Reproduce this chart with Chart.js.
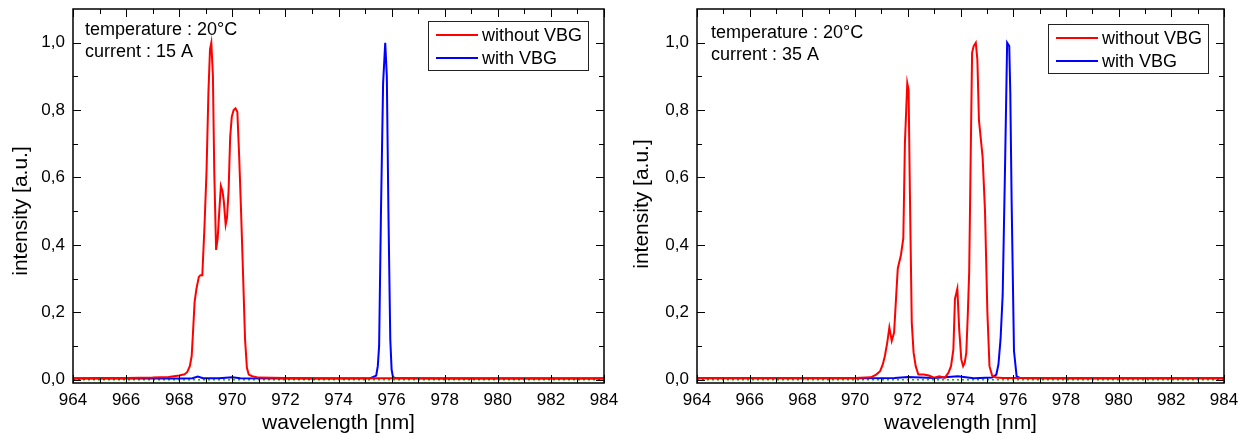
<!DOCTYPE html>
<html>
<head>
<meta charset="utf-8">
<script src="https://cdn.jsdelivr.net/npm/chart.js@4.4.1/dist/chart.umd.min.js"></script>
<style>
  html, body { margin: 0; padding: 0; background: #fff; }
  #wrap { position: relative; width: 1241px; height: 434px; }
  #left { position: absolute; left: 0; top: 0; }
  #right { position: absolute; left: 620px; top: 0; }
</style>
</head>
<body>
<div id="wrap">
  <canvas id="left" width="620" height="434"></canvas>
  <canvas id="right" width="621" height="434"></canvas>
</div>
<script>
// axes
const xTicks = [964, 966, 968, 970, 972, 974, 976, 978, 980, 982, 984];
const yTicks = [0.0, 0.2, 0.4, 0.6, 0.8, 1.0];

// 15 A - without VBG
const wl15Red = [964, 965, 966, 967, 967.6, 968.0, 968.2, 968.3, 968.4, 968.47, 968.52, 968.58, 968.65, 968.74, 968.8,
  968.87, 968.95, 969.03, 969.1, 969.16, 969.21, 969.27, 969.32, 969.39, 969.45, 969.51, 969.57, 969.63, 969.68, 969.75,
  969.8, 969.86, 969.92, 969.98, 970.05, 970.12, 970.19, 970.26, 970.33, 970.41, 970.48, 970.55, 970.62, 970.75, 971.0,
  972, 974, 976, 978, 980, 982, 984];
const int15Red = [0.004, 0.005, 0.005, 0.006, 0.008, 0.012, 0.016, 0.022, 0.04, 0.07, 0.14, 0.23, 0.27, 0.305, 0.31,
  0.31, 0.45, 0.62, 0.85, 0.98, 1.0, 0.9, 0.62, 0.385, 0.42, 0.5, 0.575, 0.56, 0.53, 0.46,
  0.48, 0.56, 0.72, 0.78, 0.80, 0.805, 0.795, 0.66, 0.5, 0.3, 0.12, 0.035, 0.015, 0.01, 0.006,
  0.005, 0.004, 0.004, 0.004, 0.004, 0.004, 0.004];

// 15 A - with VBG
const wl15Blue = [964, 966, 968, 968.5, 968.7, 968.9, 969.5, 970.0, 970.3, 972, 974, 975.2, 975.42, 975.48, 975.53,
  975.6, 975.68, 975.76, 975.82, 975.88, 975.95, 976.0, 976.05, 976.15, 978, 980, 982, 984];
const int15Blue = [0.003, 0.003, 0.003, 0.004, 0.009, 0.004, 0.004, 0.007, 0.004, 0.003, 0.003, 0.004, 0.012, 0.04, 0.1,
  0.5, 0.88, 1.0, 0.9, 0.5, 0.12, 0.03, 0.008, 0.004, 0.003, 0.003, 0.003, 0.003];

// 35 A - without VBG
const wl35Red = [964, 966, 968, 970, 970.6, 970.8, 970.95, 971.05, 971.13, 971.22, 971.3, 971.39, 971.48, 971.56, 971.62,
  971.74, 971.83, 971.89, 971.98, 972.03, 972.08, 972.15, 972.22, 972.3, 972.4, 972.6, 972.8, 973.0, 973.2, 973.4,
  973.54, 973.64, 973.73, 973.79, 973.88, 973.95, 974.03, 974.1, 974.16, 974.22, 974.28, 974.33, 974.38, 974.44, 974.5,
  974.58, 974.64, 974.7, 974.84, 974.93, 975.02, 975.1, 975.2, 975.35, 975.6, 976, 978, 980, 982, 984];
const int35Red = [0.005, 0.005, 0.005, 0.005, 0.007, 0.015, 0.025, 0.045, 0.07, 0.11, 0.155, 0.115, 0.14, 0.25, 0.33,
  0.37, 0.42, 0.7, 0.88, 0.86, 0.55, 0.17, 0.08, 0.04, 0.015, 0.015, 0.012, 0.006, 0.01, 0.005,
  0.02, 0.04, 0.09, 0.24, 0.27, 0.15, 0.06, 0.04, 0.05, 0.08, 0.2, 0.32, 0.62, 0.97, 0.99,
  1.0, 0.95, 0.77, 0.66, 0.5, 0.2, 0.04, 0.012, 0.006, 0.005, 0.005, 0.004, 0.004, 0.004, 0.004];

// 35 A - with VBG
const wl35Blue = [964, 966, 968, 970, 971.5, 972, 973, 973.9, 974.5, 975.2, 975.36, 975.44, 975.52, 975.6, 975.69,
  975.77, 975.85, 975.89, 975.94, 976.03, 976.13, 976.25, 977, 980, 984];
const int35Blue = [0.004, 0.004, 0.004, 0.004, 0.005, 0.008, 0.005, 0.01, 0.004, 0.006, 0.015, 0.045, 0.12, 0.25, 0.63,
  1.0, 0.99, 0.85, 0.53, 0.085, 0.01, 0.005, 0.004, 0.004, 0.004];

// zero reference line (green dotted)
const wlZero = [964, 984];
const intZero = [0, 0];

const FONT = '"Liberation Sans", Arial, sans-serif';

// frame, inward ticks, texts and legend
function framePlugin(opts) {
  return {
    id: 'frame',
    afterDraw(chart) {
      const { ctx, chartArea: a, scales: { x, y } } = chart;
      ctx.save();
      ctx.strokeStyle = '#000';
      ctx.lineWidth = 1;
      ctx.beginPath();
      for (let v = xTicks[0]; v <= xTicks[xTicks.length - 1]; v += 1) {
        const px = Math.round(x.getPixelForValue(v)) + 0.5;
        const len = (v % 2 === 0) ? 8 : 5;
        ctx.moveTo(px, a.bottom); ctx.lineTo(px, a.bottom - len);
        ctx.moveTo(px, a.top); ctx.lineTo(px, a.top + len);
      }
      for (let i = 0; i <= 10; i++) {
        const py = Math.round(y.getPixelForValue(i / 10)) + 0.5;
        const len = (i % 2 === 0) ? 8 : 5;
        ctx.moveTo(a.left, py); ctx.lineTo(a.left + len, py);
        ctx.moveTo(a.right, py); ctx.lineTo(a.right - len, py);
      }
      ctx.stroke();
      ctx.lineWidth = 1.5;
      ctx.strokeRect(a.left, a.top, a.right - a.left, a.bottom - a.top);

      // axis titles
      ctx.fillStyle = '#000';
      ctx.font = '21px ' + FONT;
      ctx.textAlign = 'center';
      ctx.textBaseline = 'alphabetic';
      ctx.fillText('wavelength [nm]', (a.left + a.right) / 2, 429);
      ctx.save();
      ctx.translate(opts.yTitleX, opts.yTitleY);
      ctx.rotate(-Math.PI / 2);
      ctx.textBaseline = 'middle';
      ctx.fillText('intensity [a.u.]', 0, 0);
      ctx.restore();

      // annotation
      ctx.font = '18px ' + FONT;
      ctx.textAlign = 'left';
      ctx.fillText('temperature : 20°C', a.left + opts.noteDx, opts.noteY);
      ctx.fillText('current : ' + opts.current, a.left + opts.noteDx, opts.noteY + 22);

      // legend
      const bw = 160, bh = 49;
      const bx = a.right - 16 - bw, by = opts.legendTop;
      ctx.fillStyle = '#fff';
      ctx.fillRect(bx, by, bw, bh);
      ctx.strokeStyle = '#222';
      ctx.lineWidth = 1;
      ctx.strokeRect(bx + 0.5, by + 0.5, bw, bh);
      const items = [['without VBG', '#ff0000'], ['with VBG', '#0000ff']];
      items.forEach(([label, color], i) => {
        const ly = by + 14 + i * 23;
        ctx.strokeStyle = color;
        ctx.lineWidth = 2;
        ctx.beginPath();
        ctx.moveTo(bx + 8, ly); ctx.lineTo(bx + 50, ly);
        ctx.stroke();
        ctx.fillStyle = '#000';
        ctx.textBaseline = 'middle';
        ctx.fillText(label, bx + 54, ly + 1);
      });
      ctx.restore();
    }
  };
}

function spectrumChart(canvasId, opts) {
  const ctx = document.getElementById(canvasId).getContext('2d');
  const toPoints = (xs, ys) => xs.map((v, i) => ({ x: v, y: ys[i] }));

  new Chart(ctx, {
    type: 'line',
    data: {
      datasets: [
        { label: 'without VBG', data: toPoints(opts.redX, opts.redY), borderColor: '#ff0000', borderWidth: 2, order: 1 },
        { label: 'with VBG', data: toPoints(opts.blueX, opts.blueY), borderColor: '#0000ff', borderWidth: 2, order: 2 },
        { label: 'zero', data: toPoints(wlZero, intZero), borderColor: '#00c000', borderWidth: 1.5, borderDash: [2, 3], order: 3 },
      ],
    },
    options: {
      responsive: false,
      animation: false,
      layout: { padding: { top: 9, right: opts.padRight, left: 0, bottom: 0 } },
      elements: { point: { radius: 0 }, line: { tension: 0 } },
      plugins: { legend: { display: false }, tooltip: { enabled: false } },
      scales: {
        x: {
          type: 'linear',
          min: 964,
          max: 984,
          grid: { display: false, drawTicks: false },
          border: { display: false },
          afterBuildTicks: (s) => { s.ticks = xTicks.map(v => ({ value: v })); },
          afterFit: (s) => { s.height = 51; s.paddingLeft = 0; s.paddingRight = 0; },
          ticks: { padding: 7, color: '#000', font: { family: FONT, size: 17 }, maxRotation: 0, autoSkip: false },
        },
        y: {
          min: -0.01,
          max: 1.1,
          grid: { display: false, drawTicks: false },
          border: { display: false },
          afterBuildTicks: (s) => { s.ticks = yTicks.map(v => ({ value: v })); },
          afterFit: (s) => { s.width = opts.yWidth; s.paddingTop = 0; s.paddingBottom = 0; },
          ticks: {
            padding: 8,
            color: '#000',
            font: { family: FONT, size: 17 },
            callback: (v) => v.toFixed(1).replace('.', ','),
          },
        },
      },
    },
    plugins: [framePlugin(opts)],
  });
}

spectrumChart('left', {
  redX: wl15Red, redY: int15Red, blueX: wl15Blue, blueY: int15Blue,
  yWidth: 73, padRight: 16, yTitleX: 21, yTitleY: 211,
  noteDx: 12, noteY: 35, current: '15 A', legendTop: 21,
});

spectrumChart('right', {
  redX: wl35Red, redY: int35Red, blueX: wl35Blue, blueY: int35Blue,
  yWidth: 77, padRight: 17, yTitleX: 22, yTitleY: 204,
  noteDx: 14, noteY: 38, current: '35 A', legendTop: 24,
});
</script>
</body>
</html>
